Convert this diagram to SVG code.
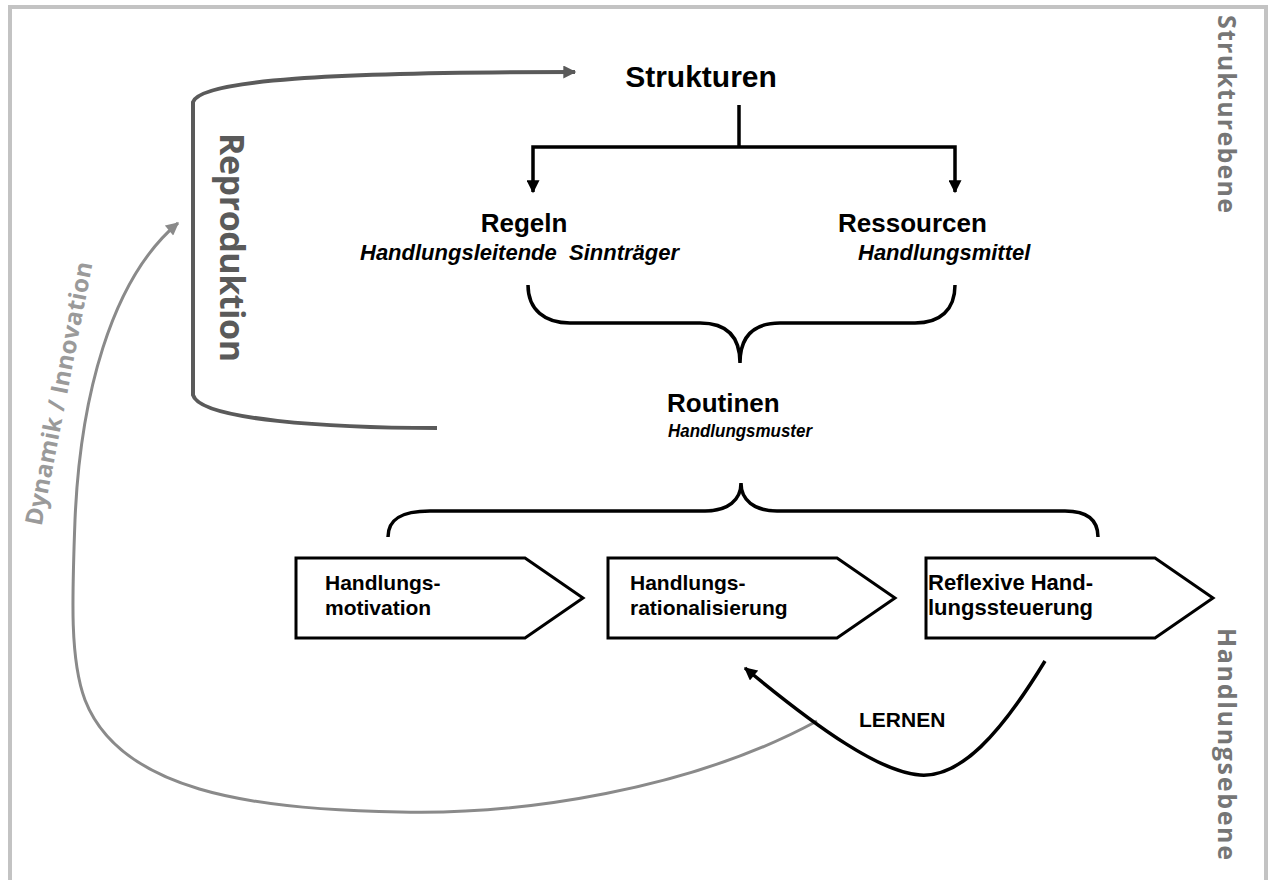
<svg xmlns="http://www.w3.org/2000/svg" width="1269" height="880" viewBox="0 0 1269 880">
<style>
.lbl{font-family:"Liberation Sans",Arial,sans-serif;font-weight:bold;fill:#000}
.it{font-style:italic}
.side{font-family:"Open Sans","DejaVu Sans",sans-serif;font-weight:bold}
.blk{fill:none;stroke:#000;stroke-width:3.5}
.box{fill:#fff;stroke:#000;stroke-width:3;stroke-linejoin:miter}
</style>
<defs>
<marker id="ah-black" viewBox="0 0 10 10" refX="9" refY="5" markerUnits="userSpaceOnUse" markerWidth="14" markerHeight="13" orient="auto"><path d="M0,0 L10,5 L0,10 z" fill="#000"/></marker>
<marker id="ah-dark" viewBox="0 0 10 10" refX="9" refY="5" markerUnits="userSpaceOnUse" markerWidth="16" markerHeight="13" orient="auto"><path d="M0,0 L10,5 L0,10 z" fill="#5a5a5a"/></marker>
<marker id="ah-grey" viewBox="0 0 10 10" refX="9" refY="5" markerUnits="userSpaceOnUse" markerWidth="16" markerHeight="13" orient="auto"><path d="M0,0 L10,5 L0,10 z" fill="#8a8a8a"/></marker>
</defs>
<rect width="1269" height="880" fill="#fff"/>
<path d="M10,880 V7 H1266 V880" fill="none" stroke="#c3c3c3" stroke-width="4"/>

<g id="connectors">
<path id="reproduktion-arrow" d="M437,428 C330,428 200,420 193,395 L193,102 C200,80 330,72 575,72" fill="none" stroke="#5a5a5a" stroke-width="4" marker-end="url(#ah-dark)"/>
<path id="dynamik-arrow" d="M817,721 C690,790 520,815 400,812 C250,810 120,790 85,700 C70,660 72,600 75,520 C80,400 110,280 178,223" fill="none" stroke="#8a8a8a" stroke-width="3" marker-end="url(#ah-grey)"/>
<path id="tree-stem" class="blk" d="M739,105 V147"/>
<path id="tree-left" class="blk" d="M739,147 H533 V192" marker-end="url(#ah-black)"/>
<path id="tree-right" class="blk" d="M739,147 H955 V192" marker-end="url(#ah-black)"/>
<path id="brace-top" class="blk" d="M528,285 C528,310 545,323 570,323 L700,323 C725,323 740,335 740,363 C740,335 755,323 780,323 L915,323 C940,323 955,310 955,285"/>
<path id="brace-bottom" class="blk" d="M388,537 C388,520 400,511 430,511 L705,511 C728,511 741,500 741,483 C741,500 754,511 777,511 L1065,511 C1090,511 1098,522 1098,537"/>
<path id="lernen-arrow" class="blk" d="M1045,661 C1000,735 960,778 920,775 C880,772 820,730 745,668" marker-end="url(#ah-black)"/>
</g>

<g id="strukturen"><text class="lbl" x="701" y="87" font-size="30" text-anchor="middle">Strukturen</text></g>
<g id="regeln">
<text class="lbl" x="524" y="232" font-size="26" text-anchor="middle">Regeln</text>
<text class="lbl it" x="360" y="260" font-size="22" xml:space="preserve">Handlungsleitende  Sinnträger</text>
</g>
<g id="ressourcen">
<text class="lbl" x="838" y="232" font-size="26">Ressourcen</text>
<text class="lbl it" x="858" y="260" font-size="22">Handlungsmittel</text>
</g>
<g id="routinen">
<text class="lbl" x="667" y="412" font-size="26">Routinen</text>
<text class="lbl it" x="668" y="437" font-size="19" textLength="144" lengthAdjust="spacingAndGlyphs">Handlungsmuster</text>
</g>

<g id="box-motivation">
<path class="box" d="M296,558 H525 L583,598 L525,638 H296 Z"/>
<text class="lbl" x="325" y="590" font-size="21">Handlungs-</text>
<text class="lbl" x="325" y="615" font-size="21">motivation</text>
</g>
<g id="box-rationalisierung">
<path class="box" d="M608,558 H837 L895,598 L837,638 H608 Z"/>
<text class="lbl" x="630" y="590" font-size="21">Handlungs-</text>
<text class="lbl" x="630" y="615" font-size="21">rationalisierung</text>
</g>
<g id="box-steuerung">
<path class="box" d="M926,558 H1155 L1213,598 L1155,638 H926 Z"/>
<text class="lbl" x="928" y="590" font-size="22">Reflexive Hand-</text>
<text class="lbl" x="928" y="615" font-size="22">lungssteuerung</text>
</g>

<g id="lernen"><text class="lbl" x="859" y="727" font-size="21">LERNEN</text></g>

<g id="label-reproduktion"><text class="side" x="0" y="0" font-size="34" fill="#5a5a5a" textLength="229" lengthAdjust="spacing" transform="translate(220,133) rotate(90)">Reproduktion</text></g>
<g id="label-dynamik"><text class="side" x="0" y="0" font-size="24" fill="#9a9a9a" text-anchor="middle" textLength="268" lengthAdjust="spacing" transform="translate(67,395) rotate(-79)">Dynamik / Innovation</text></g>
<g id="label-strukturebene"><text class="side" x="0" y="0" font-size="25" fill="#767676" textLength="198" lengthAdjust="spacing" transform="translate(1218,15) rotate(90)">Strukturebene</text></g>
<g id="label-handlungsebene"><text class="side" x="0" y="0" font-size="25" fill="#767676" textLength="232" lengthAdjust="spacing" transform="translate(1218,628) rotate(90)">Handlungsebene</text></g>
</svg>
